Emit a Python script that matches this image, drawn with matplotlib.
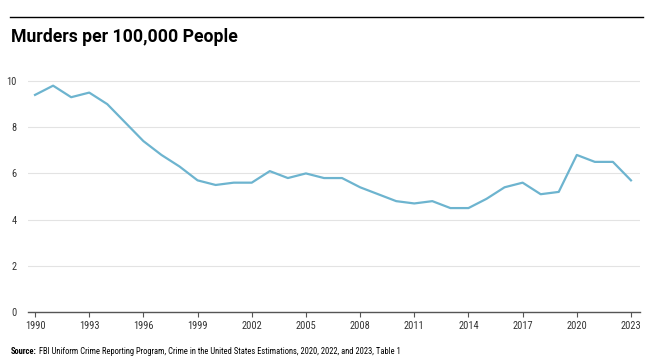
import matplotlib.pyplot as plt
from matplotlib import font_manager as fm
from matplotlib.lines import Line2D

years = list(range(1990, 2024))
rate = [9.4, 9.8, 9.3, 9.5, 9.0, 8.2, 7.4, 6.8, 6.3, 5.7,
        5.5, 5.6, 5.6, 6.1, 5.8, 6.0, 5.8, 5.8, 5.4, 5.1,
        4.8, 4.7, 4.8, 4.5, 4.5, 4.9, 5.4, 5.6, 5.1, 5.2,
        6.8, 6.5, 6.5, 5.7]
xticks = list(range(1990, 2024, 3))
yticks = [0, 2, 4, 6, 8, 10]

names = {f.name for f in fm.fontManager.ttflist}
body = 'Roboto Condensed' if 'Roboto Condensed' in names else 'Roboto'
plt.rcParams['font.family'] = [body, 'DejaVu Sans']

fig = plt.figure(figsize=(6.48, 3.64), dpi=100)
ax = fig.add_axes([28/648, 1 - 312/364, (640 - 28)/648, (312 - 69.5)/364])

ax.plot(years, rate, color='#6db4cf', linewidth=1.6, solid_joinstyle='round')

ax.set_xlim(1989.61, 2023.5)
ax.set_ylim(0, 10.5)
ax.set_xticks(xticks)
ax.set_yticks(yticks)

ax.tick_params(axis='y', length=0, pad=8, labelsize=7.5, labelcolor='#333333')
ax.tick_params(axis='x', length=3.5, width=0.8, color='#555555', pad=3,
               labelsize=7.5, labelcolor='#333333')
ax.grid(axis='y', color='#e3e3e3', linewidth=0.8)
ax.set_axisbelow(True)
for s in ['top', 'right', 'left']:
    ax.spines[s].set_visible(False)
ax.spines['bottom'].set_color('#555555')
ax.spines['bottom'].set_linewidth(1.0)

# top rule and title
fig.add_artist(Line2D([10/648, 643/648], [1 - 17/364, 1 - 17/364],
                      color='black', linewidth=1.0))
title = fig.text(11/648, 1 - 37/364, 'Murders per 100,000 People', fontsize=12,
                 fontweight='bold', family=['Roboto', 'DejaVu Sans'],
                 va='center', ha='left')
fig.canvas.draw()
title.set_fontsize(12 * 225 / title.get_window_extent().width)

# source line, fitted to end near x=405
src_rest = ('FBI Uniform Crime Reporting Program, Crime in the United States '
            'Estimations, 2020, 2022, and 2023, Table 1')
y_src = 1 - 352/364
src = fig.text(11/648, y_src, 'Source:', fontsize=7, fontweight='bold',
               va='center', ha='left')
rest = fig.text(0, y_src, src_rest, fontsize=7, va='center', ha='left')
fig.canvas.draw()
total = src.get_window_extent().width + 2 + rest.get_window_extent().width
fs = min(7.5, 7 * 394 / total)
src.set_fontsize(fs)
rest.set_fontsize(fs)
fig.canvas.draw()
rest.set_x((src.get_window_extent().x1 + 2) / 648)

fig.savefig('out.png', dpi=100)
